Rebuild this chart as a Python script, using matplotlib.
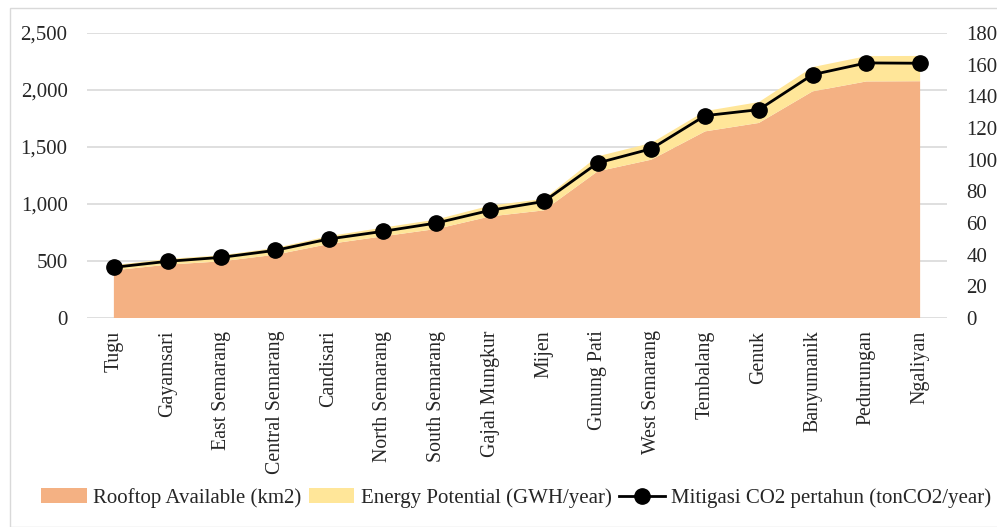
import matplotlib.pyplot as plt
from matplotlib.patches import Rectangle
from matplotlib.ticker import FuncFormatter

plt.rcParams['font.family'] = ['Liberation Serif', 'DejaVu Serif']

districts = ['Tugu', 'Gayamsari', 'East Semarang', 'Central Semarang', 'Candisari',
             'North Semarang', 'South Semarang', 'Gajah Mungkur', 'Mijen', 'Gunung Pati',
             'West Semarang', 'Tembalang', 'Genuk', 'Banyumanik', 'Pedurungan', 'Ngaliyan']
rooftop = [418, 468, 497, 555, 649, 716, 781, 891, 944, 1286,
           1389, 1637, 1711, 1988, 2075, 2077]
energy = [45, 50, 53, 59, 69, 76, 83, 95, 100, 132,
          146, 178, 183, 213, 222, 222]
co2 = [32.0, 35.8, 38.3, 42.7, 49.9, 54.7, 60.0, 68.0, 73.6, 97.9,
       106.9, 127.8, 131.6, 153.7, 161.1, 160.9]

txt = '#262626'
x = list(range(len(districts)))

fig = plt.figure(figsize=(9.97, 5.27), dpi=100)
ax = fig.add_axes([87 / 997, 1 - 318 / 527, 860 / 997, 285 / 527])
fig.patches.append(Rectangle((10 / 997, 0), 1.2, 1 - 8 / 527, transform=fig.transFigure,
                             fill=False, edgecolor='#d9d9d9', linewidth=1))

ax.stackplot(x, rooftop, energy, colors=['#F4B183', '#FFE699'],
             labels=['Rooftop Available (km2)', 'Energy Potential (GWH/year)'], zorder=2)
ax.set_xlim(-0.5, len(districts) - 0.5)
ax.set_ylim(0, 2500)
ax.set_yticks(range(0, 2501, 500))
ax.yaxis.set_major_formatter(FuncFormatter(lambda v, p: f'{int(v):,}'))
ax.grid(axis='y', color='#d9d9d9', linewidth=1.2, zorder=0)
ax.set_axisbelow(True)
ax.set_xticks(x)
ax.set_xticklabels(districts, rotation=90, va='top', ha='center')
ax.tick_params(axis='both', length=0, labelsize=15, colors=txt)
ax.tick_params(axis='x', pad=9, labelsize=14.3)
ax.tick_params(axis='y', pad=14)
for s in ax.spines.values():
    s.set_visible(False)

ax2 = ax.twinx()
ax2.plot(x, co2, color='black', linewidth=2, marker='o', markersize=11,
         label='Mitigasi CO2 pertahun (tonCO2/year)', zorder=3)
ax2.set_ylim(0, 180)
ax2.set_yticks(range(0, 181, 20))
ax2.tick_params(axis='y', length=0, labelsize=15, colors=txt, pad=14)
for s in ax2.spines.values():
    s.set_visible(False)

h1, l1 = ax.get_legend_handles_labels()
h2, l2 = ax2.get_legend_handles_labels()
leg = fig.legend(h1 + h2, l1 + l2, loc='center', bbox_to_anchor=(516 / 997, 1 - 498 / 527),
                 ncol=3, frameon=False, fontsize=15, handlelength=2.2, handletextpad=0.3,
                 columnspacing=0.35, labelcolor=txt)

fig.savefig('out.png', dpi=100)
